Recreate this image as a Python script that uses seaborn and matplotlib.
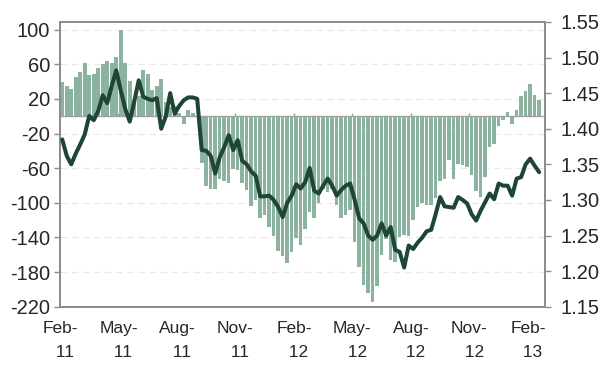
import numpy as np
import pandas as pd
import matplotlib
matplotlib.use("Agg")
import matplotlib.pyplot as plt
import seaborn as sns

# ---------------- data (weekly, Feb-11 .. Feb-13) ----------------
bar_values = [
    40, 35, 32, 45, 51, 62, 48, 49, 56, 60,
    64, 62, 68, 100, 62, 41, 19, 24, 53, 49,
    30, 35, 43, 17, 11, 12, 4, -9, 7, 4,
    -1, -54, -80, -84, -84, -73, -75, -77, -61, -62,
    -77, -85, -104, -97, -118, -114, -128, -138, -156, -161,
    -170, -157, -141, -149, -130, -110, -118, -100, -84, -88,
    -84, -102, -118, -114, -108, -145, -174, -195, -204, -215,
    -196, -160, -142, -166, -168, -140, -137, -138, -120, -105,
    -100, -102, -102, -94, -75, -73, -50, -73, -55, -56,
    -59, -68, -86, -93, -70, -35, -32, -11, -4, 5,
    -9, 7, 23, 29, 37, 25, 19,
]

line_values = [
    1.385, 1.362, 1.350, 1.365, 1.378, 1.392, 1.418, 1.412, 1.425, 1.447,
    1.436, 1.460, 1.482, 1.454, 1.428, 1.410, 1.438, 1.468, 1.445, 1.442,
    1.440, 1.443, 1.400, 1.417, 1.450, 1.421, 1.432, 1.440, 1.444, 1.444,
    1.442, 1.370, 1.369, 1.362, 1.337, 1.360, 1.374, 1.391, 1.370, 1.384,
    1.355, 1.350, 1.340, 1.334, 1.305, 1.305, 1.306, 1.300, 1.290, 1.276,
    1.296, 1.306, 1.322, 1.316, 1.325, 1.345, 1.313, 1.309, 1.320, 1.330,
    1.320, 1.306, 1.314, 1.320, 1.323, 1.300, 1.274, 1.267, 1.250, 1.244,
    1.250, 1.267, 1.250, 1.262, 1.230, 1.227, 1.205, 1.236, 1.231, 1.240,
    1.247, 1.256, 1.258, 1.280, 1.304, 1.291, 1.290, 1.289, 1.304, 1.300,
    1.295, 1.280, 1.271, 1.285, 1.297, 1.309, 1.301, 1.323, 1.320, 1.320,
    1.306, 1.330, 1.332, 1.350, 1.358, 1.348, 1.339,
]

tick_labels = ["Feb-\n  11", "May-\n  11", "Aug-\n  11", "Nov-\n  11", "Feb-\n  12",
               "May-\n  12", "Aug-\n  12", "Nov-\n  12", "Feb-\n  13"]
left_ticks = [-220, -180, -140, -100, -60, -20, 20, 60, 100]
right_ticks = [1.15, 1.20, 1.25, 1.30, 1.35, 1.40, 1.45, 1.50, 1.55]

df = pd.DataFrame({"week": np.arange(len(bar_values)),
                   "bars": bar_values,
                   "line": line_values})

# ---------------- style ----------------
sns.set_style("white")
plt.rcParams["font.family"] = ["Liberation Sans", "DejaVu Sans"]

BAR_COLOR = "#8cb2a0"
LINE_COLOR = "#1f4537"
FRAME = "#8c8c8c"

fig = plt.figure(figsize=(6.04, 3.66), dpi=100)
ax = fig.add_axes([0.0993, 0.162, 0.803, 0.778])

sns.barplot(data=df, x="week", y="bars", color=BAR_COLOR, saturation=1,
            width=0.8, ax=ax, native_scale=True, zorder=2,
            linewidth=0, edgecolor="none")

ax.set_xlim(-0.5, len(bar_values) + 0.3)
ax.set_ylim(-220, 109)
ax.set_yticks(left_ticks)
ax.set_yticklabels([str(t) for t in left_ticks])
for t in left_ticks:
    ax.axhline(t, color="#e8e8e8", lw=0.8, ls=(0, (6, 4)), zorder=0)
ax.axhline(0, color="#a0a0a0", lw=1.0, zorder=3)

# category ticks sit on the zero line
tick_pos = [13 * k - 0.5 for k in range(len(tick_labels))]
ax.vlines(tick_pos[1:], 0, 4, color="#a0a0a0", lw=1.0, zorder=3)
ax.set_xticks(tick_pos)
ax.set_xticklabels(tick_labels, fontsize=12.5, linespacing=1.75)
ax.tick_params(axis="x", length=0, pad=10)
ax.tick_params(axis="y", length=4, width=1, color=FRAME, labelsize=14.5,
               pad=3, direction="out", left=True)
ax.set_xlabel("")
ax.set_ylabel("")

ax2 = ax.twinx()
sns.lineplot(data=df, x="week", y="line", color=LINE_COLOR, lw=2.9, ax=ax2,
             zorder=4)
ax2.set_ylim(1.15, 1.55)
ax2.set_yticks(right_ticks)
ax2.set_yticklabels(["%.2f" % t for t in right_ticks])
ax2.tick_params(axis="y", length=4, width=1, color=FRAME, labelsize=14.5,
                pad=7, direction="out", right=True)
ax2.set_ylabel("")

for a in (ax, ax2):
    for s in a.spines.values():
        s.set_visible(True)
        s.set_color(FRAME)
        s.set_linewidth(1.3)

fig.savefig("out.png", dpi=100)
